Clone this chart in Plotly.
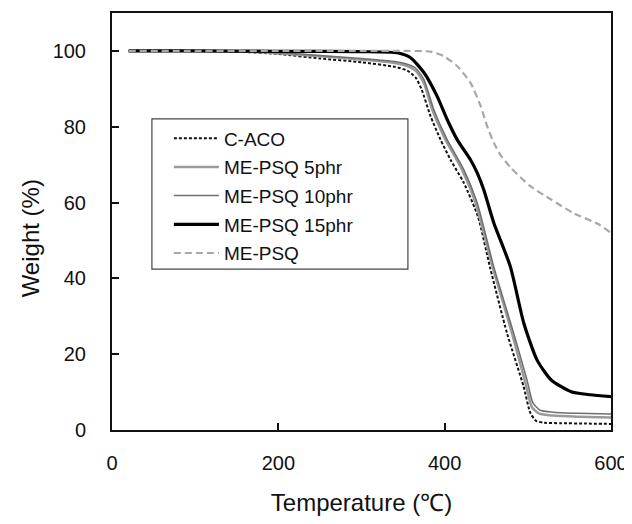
import plotly.graph_objects as go

# ---- data ----
cAco_T = [20, 100, 150, 200, 250, 300, 340, 355, 365, 372, 383, 395, 407, 423, 440, 455, 475, 495, 503, 510, 520, 540, 570, 600]
cAco_W = [100, 100, 99.8, 99.2, 98.0, 97.0, 95.8, 94.8, 93.0, 90.0, 82.8, 76.6, 71.3, 65.2, 56.3, 42.5, 25.5, 11.4, 4.5, 2.4, 1.9, 1.8, 1.7, 1.6]

p5_T = [20, 100, 150, 200, 250, 300, 340, 355, 365, 375, 385, 400, 420, 437, 457, 481, 497, 505, 514, 530, 560, 600]
p5_W = [100, 100, 99.9, 99.4, 98.6, 97.7, 96.8, 96.0, 94.8, 91.5, 84.5, 77.0, 69.0, 60.0, 43.5, 25.5, 12.5, 6.0, 4.3, 3.8, 3.5, 3.3]

p10_T = [20, 100, 150, 200, 250, 300, 340, 355, 365, 375, 387, 403, 423, 439, 459, 483, 499, 506, 515, 530, 560, 600]
p10_W = [100, 100, 99.9, 99.5, 98.8, 98.0, 97.2, 96.5, 95.5, 92.5, 84.5, 76.6, 68.7, 60.0, 43.1, 25.5, 13.2, 7.2, 5.2, 4.7, 4.4, 4.2]

p15_T = [20, 100, 200, 300, 343, 359, 375, 391, 403, 415, 431, 439, 447, 459, 479, 495, 511, 528, 552, 575, 600]
p15_W = [100, 100, 99.9, 99.8, 99.5, 98.2, 94.3, 88.0, 81.9, 76.6, 71.3, 67.9, 63.4, 54.7, 43.1, 28.3, 18.5, 13.2, 10.1, 9.3, 8.8]

psq_T = [20, 100, 200, 300, 350, 383, 399, 415, 431, 443, 451, 459, 467, 479, 503, 528, 555, 584, 600]
psq_W = [100, 100, 100, 100, 100, 99.8, 98.6, 96.0, 91.6, 85.6, 80.2, 75.8, 72.6, 69.3, 64.3, 60.8, 57.2, 54.4, 52.0]

x_ticks = [0, 200, 400, 600]
y_ticks = [0, 20, 40, 60, 80, 100]

x_title = "Temperature (℃)"
y_title = "Weight (%)"

series = [
    ("C-ACO", cAco_T, cAco_W, dict(color="#111111", width=2, dash="3px,2px")),
    ("ME-PSQ 5phr", p5_T, p5_W, dict(color="#9a9a9a", width=2.5)),
    ("ME-PSQ 10phr", p10_T, p10_W, dict(color="#6e6e6e", width=1.5)),
    ("ME-PSQ 15phr", p15_T, p15_W, dict(color="#000000", width=3.2)),
    ("ME-PSQ", psq_T, psq_W, dict(color="#a8a8a8", width=2.2, dash="7px,4px")),
]

fig = go.Figure()
for i, (name, xs, ys, line) in enumerate(series):
    fig.add_trace(go.Scatter(x=xs, y=ys, name=name, mode="lines",
                             line=dict(shape="spline", smoothing=0.6, **line),
                             legendgroup=f"g{i}"))

FONT = "Liberation Sans, Arial, sans-serif"

# page body has an 8px margin, so the figure is sized/offset accordingly
fig.update_layout(
    width=624, height=516,
    margin=dict(l=104, r=21, t=5, b=94),
    paper_bgcolor="white", plot_bgcolor="white",
    font=dict(family=FONT, color="#111111", size=20),
    showlegend=True,
    legend=dict(x=0.114, y=0.745, xanchor="left", yanchor="top",
                bgcolor="rgba(0,0,0,0)", borderwidth=0,
                font=dict(family=FONT, size=19, color="#111111"),
                tracegroupgap=1, itemwidth=45),
    shapes=[dict(type="rect", xref="paper", yref="paper",
                 x0=0.08, x1=0.593, y0=0.386, y1=0.746,
                 line=dict(color="#444444", width=1.2), fillcolor="rgba(0,0,0,0)")],
    annotations=[dict(text=y_title, textangle=-90, xref="paper", yref="paper",
                      x=-0.164, y=0.46, xanchor="center", yanchor="middle",
                      showarrow=False,
                      font=dict(size=24, family=FONT, color="#111111"))],
)

fig.update_xaxes(range=[0, 600], tickvals=x_ticks, ticks="inside", ticklen=7,
                 tickwidth=1.5, tickcolor="#111111",
                 showline=True, linecolor="#111111", linewidth=2, mirror=True,
                 showgrid=False, zeroline=False, automargin=False,
                 tickfont=dict(size=20, family=FONT, color="#111111"),
                 ticklabelstandoff=14,
                 title=dict(text=x_title, font=dict(size=24, family=FONT, color="#111111"),
                            standoff=21))
fig.update_yaxes(range=[0, 110], tickvals=y_ticks, ticks="inside", ticklen=7,
                 tickwidth=1.5, tickcolor="#111111",
                 showline=True, linecolor="#111111", linewidth=2, mirror=True,
                 showgrid=False, zeroline=False, automargin=False,
                 tickfont=dict(size=20, family=FONT, color="#111111"),
                 ticklabelstandoff=20)

fig.write_html("out.html")
